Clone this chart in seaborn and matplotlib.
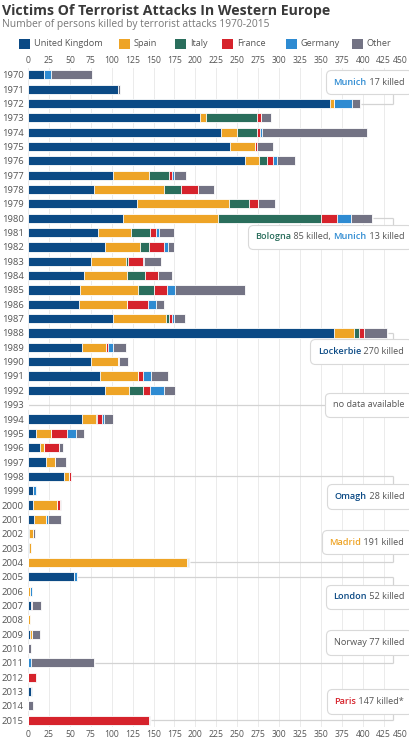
import numpy as np
import pandas as pd
import matplotlib
matplotlib.use("Agg")
import matplotlib.pyplot as plt
import matplotlib.transforms as mtransforms
import seaborn as sns
from matplotlib.offsetbox import TextArea, HPacker, AnnotationBbox
from matplotlib.patches import Rectangle

years = [str(y) for y in range(1970, 2016)]
uk = [19, 108, 361, 206, 231, 241, 259, 101, 79, 130, 113, 84, 92, 75, 67, 62, 61, 102, 365, 64,
      75, 86, 92, 0, 64, 10, 14, 22, 43, 6, 6, 7, 1, 1, 0, 55, 0, 3, 0, 2, 0, 0, 0, 4, 0, 0]
spain = [0, 0, 4, 7, 19, 30, 17, 43, 83, 110, 114, 39, 42, 42, 51, 69, 57, 63, 25, 29,
         32, 45, 29, 0, 17, 18, 5, 10, 6, 0, 29, 14, 5, 3, 190, 0, 2, 0, 2, 3, 0, 0, 0, 0, 0, 0]
italy = [0, 0, 0, 60, 24, 0, 10, 25, 21, 24, 123, 23, 11, 2, 22, 19, 0, 3, 6, 0,
         0, 0, 16, 0, 1, 0, 0, 0, 0, 0, 0, 0, 0, 0, 0, 0, 0, 0, 0, 0, 0, 0, 0, 0, 0, 0]
france = [0, 0, 0, 5, 3, 3, 7, 3, 20, 11, 19, 7, 17, 18, 15, 16, 25, 4, 6, 3,
          2, 6, 9, 0, 7, 19, 18, 0, 2, 0, 3, 0, 0, 0, 0, 0, 0, 2, 0, 0, 0, 0, 9, 0, 0, 144]
germany = [8, 0, 22, 0, 2, 0, 5, 3, 0, 0, 17, 4, 5, 2, 0, 10, 10, 2, 0, 5,
           0, 10, 17, 0, 2, 10, 0, 0, 0, 4, 0, 3, 0, 0, 1, 3, 3, 0, 0, 0, 0, 3, 0, 1, 0, 0]
other = [49, 2, 10, 12, 126, 19, 21, 14, 19, 20, 25, 17, 7, 20, 17, 83, 10, 13, 27, 16,
         10, 20, 13, 0, 10, 10, 5, 13, 0, 0, 2, 15, 2, 0, 1, 0, 0, 11, 0, 9, 4, 76, 0, 0, 6, 2]

series_names = ["United Kingdom", "Spain", "Italy", "France", "Germany", "Other"]
series_colors = ["#0b4a85", "#eea426", "#2a6e5c", "#d6232c", "#2e8bd2", "#737384"]
xticks = list(range(0, 451, 25))

# annotations: year of bar, box row (fractional row index), place, rest text, colour
ann_years = ["1972", "1980", "1988", "1993", "1998", "2004", "2005", "2011", "2015"]
ann_rows = [0.5, 11.3, 19.3, 23.0, 29.4, 32.6, 36.4, 39.6, 43.7]
ann_place = ["Munich", "Bologna", "Lockerbie", "", "Omagh", "Madrid", "London", "", "Paris"]
ann_rest = [" 17 killed", " 85 killed, ", " 270 killed", "no data available", " 28 killed",
            " 191 killed", " 52 killed", "Norway 77 killed", " 147 killed*"]
ann_colors = ["#2e8bd2", "#2a6e5c", "#0b4a85", "#555555", "#0b4a85", "#eea426", "#0b4a85",
              "#555555", "#d6232c"]

df = pd.DataFrame({"year": years, "United Kingdom": uk, "Spain": spain, "Italy": italy,
                   "France": france, "Germany": germany, "Other": other})
cum = df[series_names].cumsum(axis=1)

plt.rcParams["font.family"] = ["Open Sans", "DejaVu Sans"]
fig = plt.figure(figsize=(4.1, 7.5), dpi=100)
fig.patch.set_facecolor("white")
ax_w = 0.837 * 450
ax = fig.add_axes([28 / 410, 1 - 727.2 / 750, ax_w / 410, (727.2 - 67.8) / 750])

for name, col in reversed(list(zip(series_names, series_colors))):
    sns.barplot(x=cum[name].values, y=df["year"], order=years, orient="h", color=col,
                width=0.63, edgecolor="white", linewidth=0.6, errorbar=None, ax=ax,
                saturation=1, zorder=2)

ax.set_xlim(0, 450)
ax.set_ylim(45.5, -0.5)
ax.set_xticks(xticks)
ax.set_xticklabels([str(t) for t in xticks])
for s in ax.spines.values():
    s.set_visible(False)
ax.grid(axis="x", color="#ebebeb", lw=0.7, zorder=0)
ax.set_axisbelow(True)
ax.tick_params(axis="x", which="both", length=0, labeltop=True, labelbottom=True,
               labelsize=6.2, colors="#555555", pad=2)
ax.tick_params(axis="y", length=0, labelsize=6.8, colors="#555555", pad=3)
ax.set_xlabel("")
ax.set_ylabel("")

# nudge the last tick labels so they stay inside the figure
shift = mtransforms.ScaledTranslation(-4 / 100, 0, fig.dpi_scale_trans)
for tk in ax.xaxis.get_major_ticks()[-1:]:
    tk.label1.set_transform(tk.label1.get_transform() + shift)
    tk.label2.set_transform(tk.label2.get_transform() + shift)

totals = cum["Other"].values
xv = 436.5
line_kw = dict(color="#d3d3d3", lw=0.9, zorder=1.5, solid_capstyle="butt")
for yr, brow, place, rest, col in zip(ann_years, ann_rows, ann_place, ann_rest, ann_colors):
    r = years.index(yr)
    if yr == "1993":
        ax.plot([0, xv], [r, r], **line_kw)
    else:
        ax.plot([totals[r] + 1, xv], [r, r], **line_kw)
        ax.plot([xv, xv], [r, brow], **line_kw)
    parts = []
    if place:
        parts.append(TextArea(place, textprops=dict(color=col, fontsize=6.6, fontweight="semibold")))
    parts.append(TextArea(rest, textprops=dict(color="#555555", fontsize=6.6)))
    if place == "Bologna":
        parts.append(TextArea("Munich", textprops=dict(color="#2e8bd2", fontsize=6.6,
                                                       fontweight="semibold")))
        parts.append(TextArea(" 13 killed", textprops=dict(color="#555555", fontsize=6.6)))
    box = HPacker(children=parts, align="baseline", pad=0, sep=0)
    ab = AnnotationBbox(box, (449.5, brow), xycoords="data", box_alignment=(1, 0.5),
                        frameon=True, pad=0.55,
                        bboxprops=dict(boxstyle="round,pad=0.55,rounding_size=0.35",
                                       fc="white", ec="#d9d9d9", lw=0.8),
                        zorder=5, annotation_clip=False)
    ax.add_artist(ab)

# title and subtitle
fig.text(2 / 410, 1 - 15 / 750, "Victims Of Terrorist Attacks In Western Europe",
         fontsize=10.2, fontweight="bold", color="#3a3a3a", va="baseline", ha="left")
fig.text(2 / 410, 1 - 27 / 750, "Number of persons killed by terrorist attacks 1970-2015",
         fontsize=7.4, color="#777777", va="baseline", ha="left")

# legend
leg_x = [19, 119, 175, 222, 286, 352]
for name, col, lx in zip(series_names, series_colors, leg_x):
    fig.patches.append(Rectangle((lx / 410, 1 - 49 / 750), 11 / 410, 10 / 750,
                                 transform=fig.transFigure, fc=col, ec="none"))
    fig.text((lx + 15) / 410, 1 - 44 / 750, name, fontsize=6.6, color="#555555",
             va="center", ha="left")

fig.savefig("out.png", dpi=100, facecolor="white")
